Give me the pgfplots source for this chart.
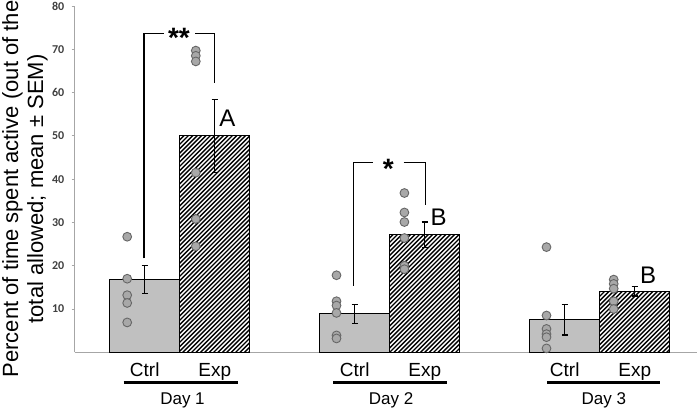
\documentclass[border=0pt]{standalone}
\usepackage{fontspec}
\setmainfont{Liberation Sans}
\newfontfamily\carlito{Carlito}
\usepackage{pgfplots}
\pgfplotsset{compat=1.18}
\definecolor{ctrlgray}{HTML}{C0C0C0}
\definecolor{ptfill}{HTML}{A8A8A8}
\definecolor{ptdraw}{HTML}{666666}
\definecolor{axisgray}{HTML}{A6A6A6}
\pgfplotsset{myax/.style={at={(74.7pt,60.7pt)}, anchor=south west, scale only axis,
  width=622.3pt, height=346.3pt,
  xmin=0, xmax=8.89, ymin=0, ymax=80, clip=false}}
\begin{document}
\begin{tikzpicture}
\useasboundingbox (0,0) rectangle (699pt,413pt);
\node[rotate=90, anchor=base, font=\fontsize{22}{26}\selectfont] at (18pt,224pt) {Percent of time spent active (out of the};
\node[rotate=90, anchor=base, font=\fontsize{22}{26}\selectfont] at (43pt,224pt) {total allowed; mean ± SEM)};
\begin{axis}[myax,
  axis lines=left, axis line style={-, draw=axisgray, line width=0.9pt},
  xtick=\empty, ytick={10,20,...,80},
  tick align=outside, major tick length=3pt,
  tick style={draw=axisgray, line width=0.9pt},
  yticklabel style={font=\carlito\bfseries\fontsize{12}{13}\selectfont, text=black!75, xshift=-4pt},
  /pgf/number format/assume math mode=true]
% Ctrl bars
\addplot[ybar, bar width=1, bar shift=0pt, fill=ctrlgray, draw=black, line width=1.1pt]
  coordinates {(1,16.8) (4,8.9) (7,7.5)};
% Exp bars (white ground, hatched)
\addplot[ybar, bar width=1, bar shift=0pt, fill=white, draw=black, line width=1.1pt]
  coordinates {(2,50.0) (5,27.2) (8,14.1)};
\begin{scope}
\clip (axis cs:1.5,0) rectangle (axis cs:2.5,50.0)
      (axis cs:4.5,0) rectangle (axis cs:5.5,27.2)
      (axis cs:7.5,0) rectangle (axis cs:8.5,14.1);
\pgfplotsinvokeforeach{0,...,168}{
  \draw[line width=1.4pt] (axis cs:0,0) ++({#1*4.4pt-130pt},-5pt) -- ++(420pt,420pt);
}
\end{scope}
\addplot[ybar, bar width=1, bar shift=0pt, fill=none, draw=black, line width=1.1pt]
  coordinates {(2,50.0) (5,27.2) (8,14.1)};
% category labels
\node[anchor=base, font=\fontsize{19}{20}\selectfont] at (axis cs:1,-5.64) {Ctrl};
\node[anchor=base, font=\fontsize{19}{20}\selectfont] at (axis cs:4,-5.64) {Ctrl};
\node[anchor=base, font=\fontsize{19}{20}\selectfont] at (axis cs:7,-5.64) {Ctrl};
\node[anchor=base, font=\fontsize{19}{20}\selectfont] at (axis cs:2,-5.64) {Exp};
\node[anchor=base, font=\fontsize{19}{20}\selectfont] at (axis cs:5,-5.64) {Exp};
\node[anchor=base, font=\fontsize{19}{20}\selectfont] at (axis cs:8,-5.64) {Exp};
\draw[line width=2.5pt] (axis cs:0.70,-7.02) -- (axis cs:2.33,-7.02);
\draw[line width=2.5pt] (axis cs:3.69,-7.02) -- (axis cs:5.32,-7.02);
\draw[line width=2.5pt] (axis cs:6.75,-7.02) -- (axis cs:8.36,-7.02);
\node[anchor=base, font=\fontsize{17}{18}\selectfont] at (axis cs:1.54,-12.17) {Day 1};
\node[anchor=base, font=\fontsize{17}{18}\selectfont] at (axis cs:4.52,-12.17) {Day 2};
\node[anchor=base, font=\fontsize{17}{18}\selectfont] at (axis cs:7.56,-12.17) {Day 3};
\end{axis}
\begin{axis}[myax, axis lines=none, xtick=\empty, ytick=\empty]
% individual points
\addplot[only marks, mark=*, mark size=4.4pt, color=ptdraw, fill=ptfill,
  mark options={solid, fill=ptfill, draw=ptdraw, line width=0.9pt}]
  coordinates {
  (0.75,26.7) (0.75,17.0) (0.75,13.2) (0.75,11.4) (0.75,6.9)
  (1.73,69.7) (1.73,68.5) (1.73,67.2) (1.73,41.5) (1.73,30.8) (1.73,24.5)
  (3.74,17.8) (3.74,11.8) (3.74,10.8) (3.74,9.1) (3.74,3.9) (3.74,3.2)
  (4.71,36.8) (4.71,32.3) (4.71,30.1) (4.71,26.4) (4.71,20.0) (4.71,19.2)
  (6.74,24.3) (6.74,8.5) (6.74,5.4) (6.74,4.2) (6.74,3.5) (6.74,0.9)
  (7.70,16.8) (7.70,15.8) (7.70,14.7) (7.70,11.8) (7.70,10.0)
  };
% error bars
\addplot[draw=none, mark=none,
  error bars/.cd, y dir=both, y explicit,
  error bar style={draw=black, line width=1.1pt},
  error mark options={rotate=90, mark size=3pt, line width=1.1pt, draw=black}]
  coordinates {(1,16.8) +- (0,3.3) (2,50.0) +- (0,8.5)
               (4,8.9) +- (0,2.2) (5,27.2) +- (0,2.9)
               (7,7.5) +- (0,3.5) (8,14.1) +- (0,1.1)};
% significance brackets
\draw[line width=1.1pt] (axis cs:0.99,21.7) -- (axis cs:0.99,73.7) -- (axis cs:1.27,73.7);
\draw[line width=1.1pt] (axis cs:1.72,73.7) -- (axis cs:2.0,73.7) -- (axis cs:2.0,62.3);
\node[font=\bfseries\fontsize{28}{28}\selectfont, anchor=base] at (axis cs:1.49,70.4) {**};
\draw[line width=1.1pt] (axis cs:3.98,15.4) -- (axis cs:3.98,43.9) -- (axis cs:4.26,43.9);
\draw[line width=1.1pt] (axis cs:4.70,43.9) -- (axis cs:5.01,43.9) -- (axis cs:5.01,34.0);
\node[font=\bfseries\fontsize{28}{28}\selectfont, anchor=base] at (axis cs:4.48,40.1) {*};
% letters
\node[font=\fontsize{24}{24}\selectfont] at (axis cs:2.18,54.1) {A};
\node[font=\fontsize{24}{24}\selectfont] at (axis cs:5.20,31.3) {B};
\node[font=\fontsize{24}{24}\selectfont] at (axis cs:8.19,17.9) {B};
\end{axis}
\end{tikzpicture}
\end{document}
